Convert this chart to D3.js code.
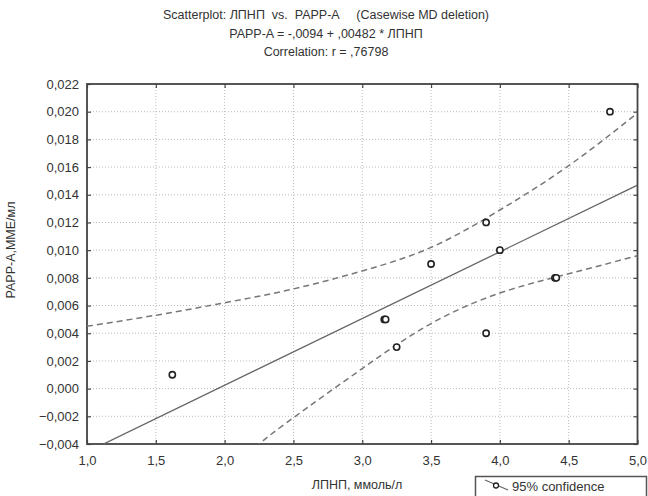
<!DOCTYPE html>
<html><head><meta charset="utf-8">
<script src="https://cdn.jsdelivr.net/npm/d3@7"></script>
<style>body{margin:0;background:#fff}svg{display:block}text{font-family:"Liberation Sans",Arial,sans-serif;fill:#333}</style>
</head><body><svg id="c" width="648" height="496"></svg>
<script>
const ldl   = [1.62, 3.16, 3.17, 3.25, 3.50, 3.90, 3.90, 4.00, 4.40, 4.41, 4.80];
const pappa = [0.001, 0.005, 0.005, 0.003, 0.009, 0.012, 0.004, 0.010, 0.008, 0.008, 0.020];
const regIntercept = -0.0094, regSlope = 0.00482;
const ciUpperX = [1.0, 1.5, 2.0, 2.5, 3.0, 3.5, 4.0, 4.5, 5.0];
const ciUpperY = [0.0045, 0.0053, 0.0062, 0.0072, 0.0085, 0.0102, 0.0129, 0.0161, 0.0199];
const ciLowerX = [2.0, 2.25, 2.5, 3.0, 3.5, 4.0, 4.5, 5.0];
const ciLowerY = [-0.0061, -0.0040, -0.0021, 0.00145, 0.0047, 0.0069, 0.0083, 0.0096];
const xTicks = [1.0, 1.5, 2.0, 2.5, 3.0, 3.5, 4.0, 4.5, 5.0];
const yTicks = [-0.004, -0.002, 0, 0.002, 0.004, 0.006, 0.008, 0.010, 0.012, 0.014, 0.016, 0.018, 0.020, 0.022];
const titleLines = ["Scatterplot: ЛПНП  vs.  PAPP-A     (Casewise MD deletion)",
                    "PAPP-A = -,0094 + ,00482 * ЛПНП",
                    "Correlation: r = ,76798"];
const xLabel = "ЛПНП, ммоль/л", yLabel = "PAPP-A,ММЕ/мл", legendLabel = "95% confidence";

const svg = d3.select("#c");
const L = 87, R = 637.5, T = 84, B = 444;
const x = d3.scaleLinear().domain([1, 5]).range([L, R]);
const y = d3.scaleLinear().domain([-0.004, 0.022]).range([B, T]);
const fmtX = v => d3.format(".1f")(v).replace(".", ",");
const fmtY = v => d3.format(".3f")(v).replace(".", ",");

svg.append("defs").append("clipPath").attr("id","pc").append("rect")
  .attr("x",L).attr("y",T).attr("width",R-L).attr("height",B-T);

// grid
const g = svg.append("g");
g.selectAll(".gx").data(xTicks.slice(1,-1)).join("line")
  .attr("x1",d=>x(d)).attr("x2",d=>x(d)).attr("y1",T).attr("y2",B)
  .attr("stroke","#bbb").attr("stroke-dasharray","1,2");
g.selectAll(".gy").data(yTicks.slice(1,-1)).join("line")
  .attr("y1",d=>y(d)).attr("y2",d=>y(d)).attr("x1",L).attr("x2",R)
  .attr("stroke","#bbb").attr("stroke-dasharray","1,2");

// axes (ticks inward)
const axB = d3.axisBottom(x).tickValues(xTicks).tickFormat(fmtX).tickSizeInner(-4).tickSizeOuter(0).tickPadding(12);
const axL = d3.axisLeft(y).tickValues(yTicks).tickFormat(fmtY).tickSizeInner(-4).tickSizeOuter(0).tickPadding(8);
const axT = d3.axisTop(x).tickValues(xTicks).tickFormat("").tickSizeInner(-4).tickSizeOuter(0);
const axR = d3.axisRight(y).tickValues(yTicks).tickFormat("").tickSizeInner(-4).tickSizeOuter(0);
function styleAx(s){ s.select(".domain").remove(); s.selectAll("line").attr("stroke","#444").attr("stroke-width",1.2);
  s.selectAll("text").attr("font-size",13).attr("fill","#333").attr("font-family","Liberation Sans, Arial, sans-serif"); }
svg.append("g").attr("transform",`translate(0,${B})`).call(axB).call(styleAx);
svg.append("g").attr("transform",`translate(${L},0)`).call(axL).call(styleAx);
svg.append("g").attr("transform",`translate(0,${T})`).call(axT).call(styleAx);
svg.append("g").attr("transform",`translate(${R},0)`).call(axR).call(styleAx);
svg.append("rect").attr("x",L).attr("y",T).attr("width",R-L).attr("height",B-T)
  .attr("fill","none").attr("stroke","#444").attr("stroke-width",1.8);

const plot = svg.append("g").attr("clip-path","url(#pc)");
// regression line
plot.append("line").attr("x1",x(1)).attr("y1",y(regIntercept+regSlope*1))
  .attr("x2",x(5)).attr("y2",y(regIntercept+regSlope*5))
  .attr("stroke","#666").attr("stroke-width",1.3);
const ln = d3.line().x(d=>x(d[0])).y(d=>y(d[1])).curve(d3.curveNatural);
plot.append("path").attr("d",ln(ciUpperX.map((v,i)=>[v,ciUpperY[i]])))
  .attr("fill","none").attr("stroke","#777").attr("stroke-width",1.5).attr("stroke-dasharray","6,4");
plot.append("path").attr("d",ln(ciLowerX.map((v,i)=>[v,ciLowerY[i]])))
  .attr("fill","none").attr("stroke","#777").attr("stroke-width",1.5).attr("stroke-dasharray","6,4");

// points
svg.append("g").selectAll("circle").data(ldl.map((v,i)=>[v,pappa[i]])).join("circle")
  .attr("cx",d=>x(d[0])).attr("cy",d=>y(d[1])).attr("r",3.1)
  .attr("fill","#fff").attr("stroke","#222").attr("stroke-width",1.6);

// titles
svg.append("g").selectAll("text").data(titleLines).join("text")
  .attr("x",326).attr("y",(d,i)=>19+i*18.5).attr("text-anchor","middle")
  .attr("font-size",12.5).attr("fill","#222").attr("xml:space","preserve").style("white-space","pre").text(d=>d);

svg.append("text").attr("x",357).attr("y",489).attr("text-anchor","middle")
  .attr("font-size",12.5).attr("fill","#222").text(xLabel);
svg.append("text").attr("transform","translate(15,250) rotate(-90)").attr("text-anchor","middle")
  .attr("font-size",12.5).attr("fill","#222").text(yLabel);

// legend
svg.append("rect").attr("x",475.5).attr("y",476.5).attr("width",171).attr("height",30)
  .attr("fill","#fff").attr("stroke","#555").attr("stroke-width",1.5);
svg.append("line").attr("x1",485).attr("y1",480).attr("x2",508).attr("y2",490)
  .attr("stroke","#666").attr("stroke-width",1.3);
svg.append("circle").attr("cx",496).attr("cy",485.5).attr("r",2.5)
  .attr("fill","#fff").attr("stroke","#222").attr("stroke-width",1.3);
svg.append("text").attr("x",512).attr("y",491).attr("font-size",13).attr("fill","#222").text(legendLabel);
</script></body></html>
